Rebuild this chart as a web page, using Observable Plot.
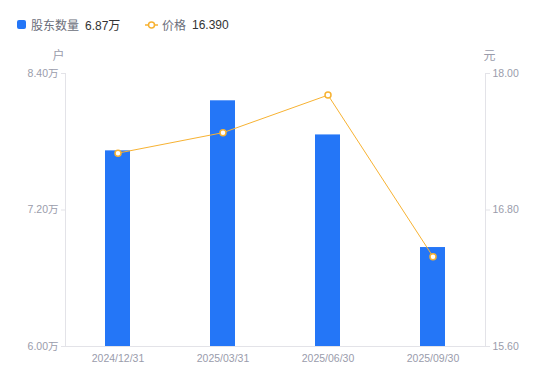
<!DOCTYPE html>
<html>
<head>
<meta charset="utf-8">
<script src="https://cdn.jsdelivr.net/npm/d3@7"></script>
<script src="https://cdn.jsdelivr.net/npm/@observablehq/plot@0.6"></script>
<style>
  html, body { margin: 0; padding: 0; background: #fff; }
  body { width: 550px; height: 381px; overflow: hidden; font-family: "Liberation Sans", "Noto Sans CJK SC", sans-serif; }
  #legend { height: 48px; position: relative; font-size: 12px; }
  #legend .item { position: absolute; top: 16px; display: flex; align-items: center; white-space: nowrap; }
  #legend .name { color: #6b6e7a; margin-right: 6px; }
  #legend .val { color: #333; }
  #legend .sq { width: 9px; height: 9px; background: #2476f7; border-radius: 2px; margin-right: 5px; }
  #chart svg { display: block; }
</style>
</head>
<body>
<div id="legend"></div>
<div id="chart"></div>
<script>
const dates = ["2024/12/31", "2025/03/31", "2025/06/30", "2025/09/30"];
const holders = [7.72, 8.16, 7.86, 6.87];   // 万户
const prices = [17.30, 17.48, 17.81, 16.39]; // 元
const leftTicks = [6.00, 7.20, 8.40];
const rightTicks = [15.60, 16.80, 18.00];

const barColor = "#2476f7";
const lineColor = "#f7b232";

// map price axis onto the holder axis domain
const lMin = 6.00, lMax = 8.40, rMin = 15.60, rMax = 18.00;
const toLeft = p => lMin + (p - rMin) * (lMax - lMin) / (rMax - rMin);
const toRight = v => rMin + (v - lMin) * (rMax - rMin) / (lMax - lMin);

const data = dates.map((d, i) => ({date: d, holders: holders[i], price: prices[i], pl: toLeft(prices[i])}));

// legend
const legend = document.getElementById("legend");
legend.innerHTML = `
  <div class="item" style="left:17px"><div class="sq"></div><span class="name">股东数量</span><span class="val">${holders[holders.length-1].toFixed(2)}万</span></div>
  <div class="item" style="left:145px">
    <svg width="13" height="10" style="margin-right:4px"><line x1="0" y1="5" x2="13" y2="5" stroke="${lineColor}" stroke-width="1.5"/><circle cx="6.5" cy="5" r="3" fill="#fff" stroke="${lineColor}" stroke-width="1.5"/></svg>
    <span class="name">价格</span><span class="val">${prices[prices.length-1].toFixed(3)}</span></div>`;

const gray = "#9a9cab";
const axisLine = "#e3e3e8";

const chart = Plot.plot({
  width: 550,
  height: 333,
  marginLeft: 65,
  marginRight: 65,
  marginTop: 25,
  marginBottom: 35,
  style: {fontFamily: "'Liberation Sans', 'Noto Sans CJK SC', sans-serif", fontSize: "10.5px", color: gray, background: "#fff"},
  x: {domain: dates, padding: 0},
  y: {domain: [lMin, lMax]},
  marks: [
    Plot.barY(data, {x: "date", y1: lMin, y2: "holders", fill: barColor, insetLeft: 40, insetRight: 40}),
    Plot.ruleY([lMin], {stroke: axisLine}),
    Plot.frame({anchor: "left", stroke: axisLine}),
    Plot.frame({anchor: "right", stroke: axisLine}),
    Plot.axisY({anchor: "left", ticks: leftTicks, tickFormat: d => d.toFixed(2) + "万", tickSize: 4, tickPadding: 3, stroke: axisLine, fill: gray, label: null}),
    Plot.axisY({anchor: "right", ticks: rightTicks.map(toLeft), tickFormat: d => toRight(d).toFixed(2), tickSize: 4, tickPadding: 3, stroke: axisLine, fill: gray, label: null}),
    Plot.axisX({tickSize: 0, tickPadding: 8, fill: gray, label: null}),
    Plot.line(data, {x: "date", y: "pl", stroke: lineColor, strokeWidth: 1}),
    Plot.dot(data, {x: "date", y: "pl", r: 3, fill: "#fff", stroke: lineColor, strokeWidth: 1.5}),
    Plot.text(["户"], {frameAnchor: "top-left", dx: -13, dy: -22, fill: gray, fontSize: 12}),
    Plot.text(["元"], {frameAnchor: "top-right", dx: 10, dy: -22, fill: gray, fontSize: 12})
  ]
});
document.getElementById("chart").appendChild(chart);
</script>
</body>
</html>
